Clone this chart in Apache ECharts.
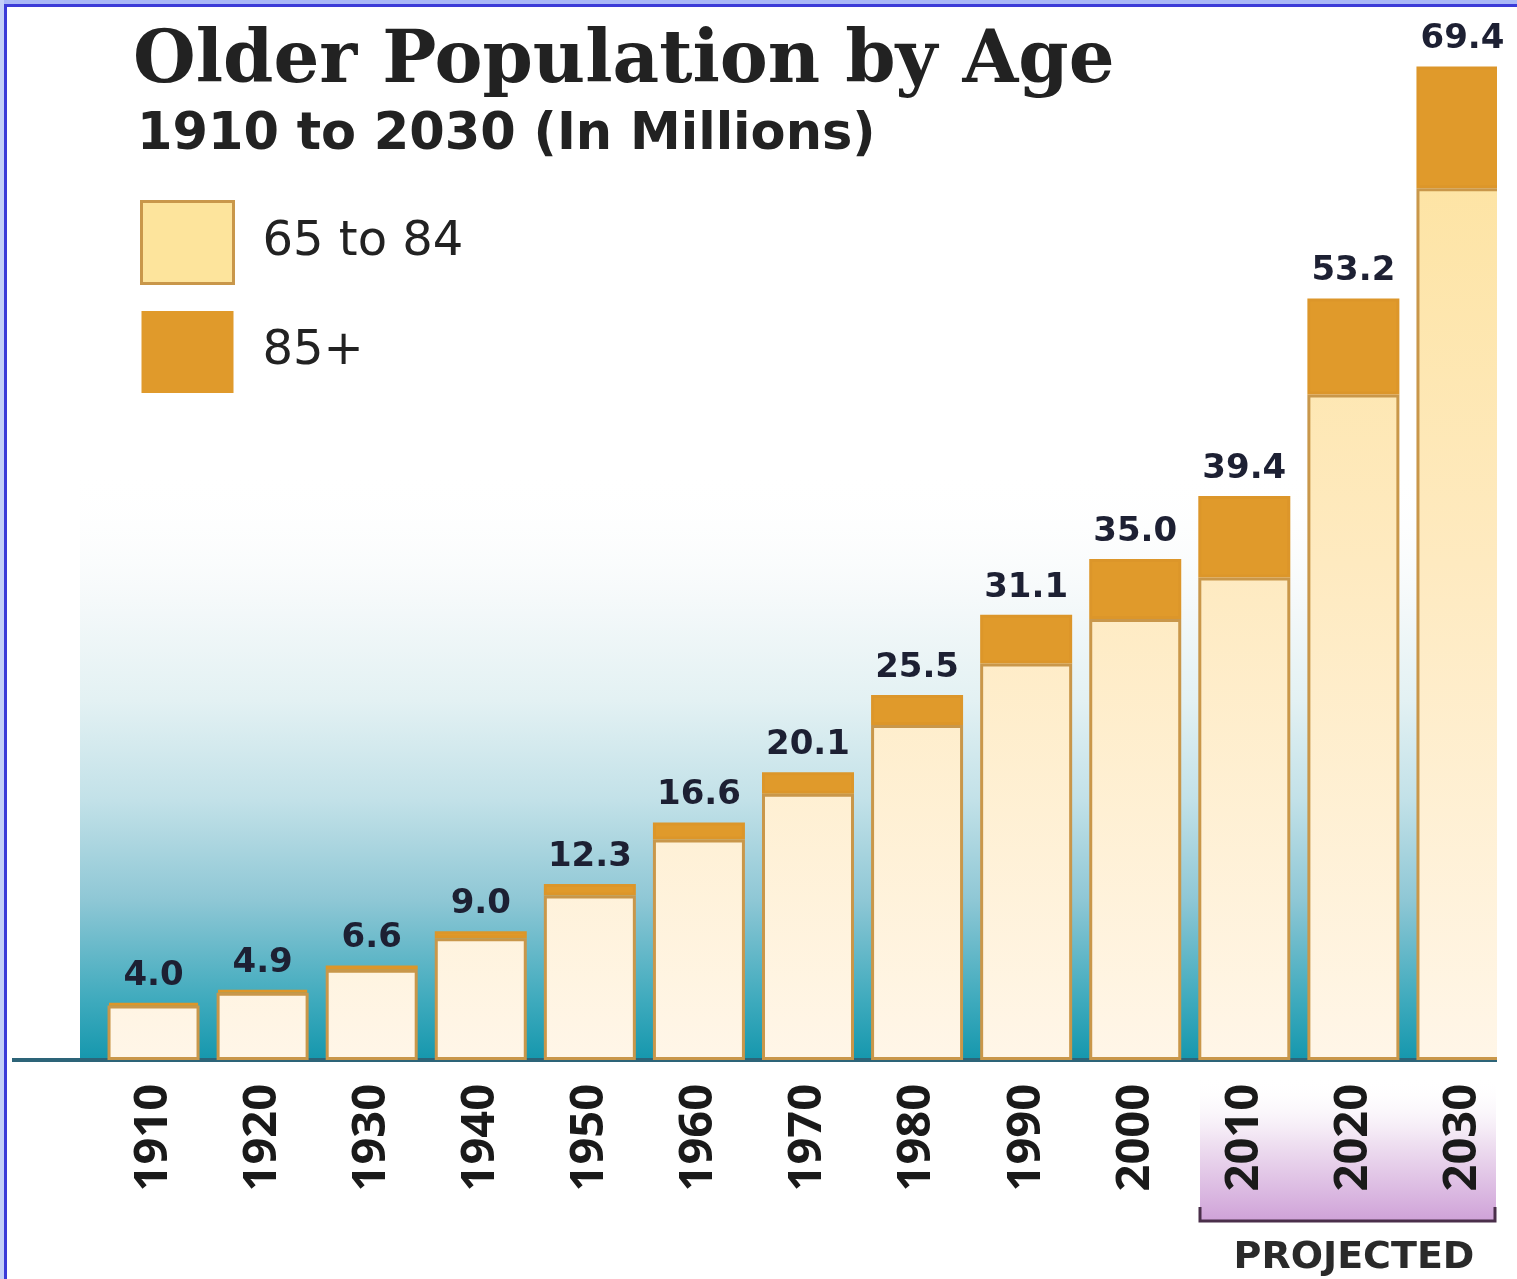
<!DOCTYPE html>
<html>
<head>
<meta charset="utf-8">
<script src="https://cdn.jsdelivr.net/npm/echarts@6/dist/echarts.min.js"></script>
<style>
html,body{margin:0;padding:0;background:#fff;}
#chart{width:1517px;height:1279px;}
</style>
</head>
<body>
<div id="chart"></div>
<script>
// ---- data (millions) ----
var years = ['1910','1920','1930','1940','1950','1960','1970','1980','1990','2000','2010','2020','2030'];
var totals = [4.0, 4.9, 6.6, 9.0, 12.3, 16.6, 20.1, 25.5, 31.1, 35.0, 39.4, 53.2, 69.4];
var age85plus = [0.2, 0.2, 0.3, 0.5, 0.8, 1.2, 1.5, 2.1, 3.4, 4.2, 5.7, 6.7, 8.5];
var age65to84 = [3.8, 4.7, 6.3, 8.5, 11.5, 15.4, 18.6, 23.4, 27.7, 30.8, 33.7, 46.5, 60.9];
var seriesNames = ['65 to 84', '85+'];
var titleText = 'Older Population by Age';
var subtitleText = '1910 to 2030 (In Millions)';
var projectedText = 'PROJECTED';

var chart = echarts.init(document.getElementById('chart'));

var creamFill = {
  type: 'linear', x: 0, y: 66, x2: 0, y2: 1060, global: true,
  colorStops: [
    {offset: 0, color: '#fde29c'},
    {offset: 0.5, color: '#feeac0'},
    {offset: 1, color: '#fff6e8'}
  ]
};

var option = {
  backgroundColor: '#ffffff',
  animation: false,
  title: [
    {text: titleText, left: 128, top: 22,
     textStyle: {fontFamily: 'DejaVu Serif', fontWeight: 'bold', fontSize: 72, color: '#222222'}},
    {text: subtitleText, left: 132, top: 105,
     textStyle: {fontFamily: 'DejaVu Sans', fontWeight: 'bold', fontSize: 51, color: '#222222'}}
  ],
  legend: {
    orient: 'vertical', left: 140, top: 200, padding: 0,
    itemWidth: 92, itemHeight: 82, itemGap: 26, icon: 'rect',
    textStyle: {fontFamily: 'DejaVu Sans', fontSize: 48, color: '#222222', padding: [20, 0, 0, 24]},
    data: [
      {name: seriesNames[0], itemStyle: {color: '#fde49c', borderColor: '#c9974a', borderWidth: 3}},
      {name: seriesNames[1], itemStyle: {color: '#e09a2b', borderColor: '#e09a2b', borderWidth: 0}}
    ]
  },
  grid: {left: 99, top: 58, width: 1422, height: 1002, containLabel: false},
  xAxis: {
    type: 'category', data: years,
    axisLine: {show: true, lineStyle: {color: '#2d6478', width: 4}},
    axisTick: {show: false},
    axisLabel: {rotate: 90, margin: 24, color: '#1a1a1a',
      fontFamily: 'Open Sans', fontWeight: 'bold', fontSize: 47}
  },
  yAxis: {type: 'value', min: 0, max: 70, show: false, splitLine: {show: false}},
  graphic: [
    // background teal glow behind the bars
    {type: 'rect', z: -1, silent: true, shape: {x: 80, y: 470, width: 1417, height: 590},
     style: {fill: {type: 'linear', x: 0, y: 0, x2: 0, y2: 1, colorStops: [
       {offset: 0, color: 'rgba(255,255,255,0)'},
       {offset: 0.22, color: '#f5f9fa'},
       {offset: 0.39, color: '#e3f1f3'},
       {offset: 0.56, color: '#c2e1e8'},
       {offset: 0.73, color: '#8ec7d5'},
       {offset: 0.9, color: '#3eaabd'},
       {offset: 1, color: '#1597ad'}]}}},
    // crop of the right edge
    {type: 'rect', z: 50, silent: true, shape: {x: 1497, y: 62, width: 30, height: 1010}, style: {fill: '#ffffff'}},
    // baseline extension to the left
    {type: 'line', z: 40, silent: true, shape: {x1: 12, y1: 1060, x2: 100, y2: 1060}, style: {stroke: '#2d6478', lineWidth: 4}},
    // projected band
    {type: 'rect', z: -1, silent: true, shape: {x: 1200, y: 1078, width: 296, height: 143},
     style: {fill: {type: 'linear', x: 0, y: 0, x2: 0, y2: 1, colorStops: [
       {offset: 0, color: 'rgba(255,255,255,0)'},
       {offset: 0.45, color: '#efe0f1'},
       {offset: 1, color: '#cfa2d8'}]}}},
    {type: 'polyline', z: 40, silent: true, shape: {points: [[1200, 1207], [1200, 1221], [1495, 1221], [1495, 1207]]},
     style: {stroke: '#4a2f4a', lineWidth: 3, fill: null}},
    {type: 'text', z: 40, silent: true, x: 1354, y: 1258,
     style: {text: projectedText, fill: '#2a2a2a', font: 'bold 38px "DejaVu Sans"', align: 'center', verticalAlign: 'middle'}},
    // frame (top and left)
    {type: 'rect', z: 100, silent: true, shape: {x: 0, y: 0, width: 1517, height: 4}, style: {fill: '#a9b8f7'}},
    {type: 'rect', z: 100, silent: true, shape: {x: 0, y: 4, width: 1517, height: 3}, style: {fill: '#3b3bd8'}},
    {type: 'rect', z: 100, silent: true, shape: {x: 0, y: 0, width: 4, height: 1279}, style: {fill: '#c3cff8'}},
    {type: 'rect', z: 100, silent: true, shape: {x: 4, y: 4, width: 3, height: 1275}, style: {fill: '#3b3bd8'}}
  ],
  series: [
    {name: seriesNames[0], type: 'bar', stack: 'pop', data: age65to84, barWidth: 92,
     itemStyle: {color: creamFill, borderColor: '#c9974a', borderWidth: 3}},
    {name: seriesNames[1], type: 'bar', stack: 'pop', data: age85plus, barWidth: 92,
     itemStyle: {color: '#e09a2b', borderColor: '#dc962a', borderWidth: 3},
     label: {show: true, position: 'top', distance: 10,
       formatter: function (p) { return totals[p.dataIndex].toFixed(1); },
       fontFamily: 'DejaVu Sans', fontWeight: 'bold', fontSize: 34, color: '#1d2033'}}
  ]
};
chart.setOption(option);
</script>
</body>
</html>
